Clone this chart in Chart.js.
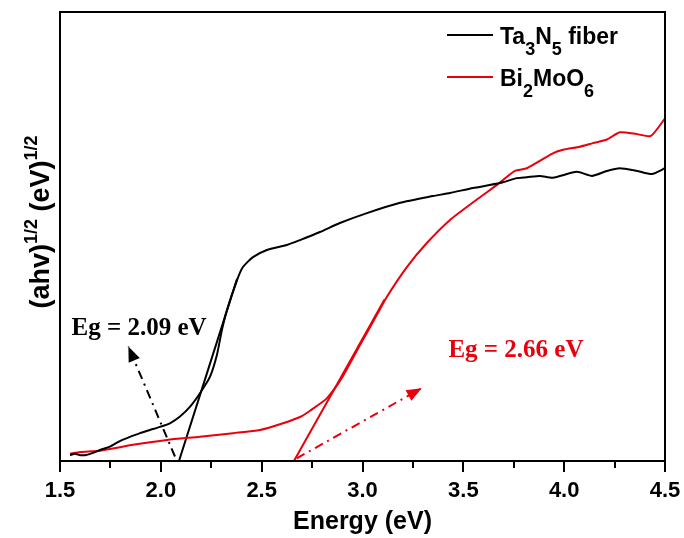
<!DOCTYPE html>
<html>
<head>
<meta charset="utf-8">
<script src="https://cdn.jsdelivr.net/npm/chart.js@4.4.0/dist/chart.umd.min.js"></script>
<style>
  html, body { margin: 0; padding: 0; background: #fff; }
</style>
</head>
<body>
<canvas id="chart" width="684" height="538"></canvas>
<script>
/** Ta3N5 fiber (black) **/
const taX = [1.55, 1.574, 1.60, 1.624, 1.664, 1.698, 1.748, 1.797, 1.832, 1.897, 1.946, 1.996, 2.045, 2.095, 2.145, 2.194, 2.244, 2.278, 2.303, 2.328, 2.378, 2.407, 2.457, 2.526, 2.625, 2.69, 2.789, 2.888, 3.022, 3.186, 3.349, 3.434, 3.548, 3.682, 3.766, 3.815, 3.88, 3.944, 4.063, 4.138, 4.212, 4.276, 4.361, 4.435, 4.5];
const taY = [1.3, 1.6, 1.3, 1.3, 1.8, 2.45, 3.2, 4.45, 5.1, 6.2, 6.9, 7.6, 8.4, 9.9, 12.1, 15.1, 18.8, 23.6, 29.2, 33.6, 40.3, 43.2, 45.4, 47.0, 48.1, 49.2, 51.0, 53.0, 55.2, 57.5, 59.0, 59.7, 60.8, 61.9, 63.0, 63.2, 63.5, 63.1, 64.4, 63.5, 64.6, 65.2, 64.6, 63.9, 65.2];

/** Bi2MoO6 (red) **/
const biX = [1.55, 1.60, 1.698, 1.862, 2.03, 2.194, 2.358, 2.492, 2.606, 2.69, 2.74, 2.824, 2.903, 2.987, 3.072, 3.121, 3.22, 3.32, 3.434, 3.572, 3.667, 3.756, 3.815, 3.939, 3.994, 4.078, 4.143, 4.212, 4.276, 4.361, 4.43, 4.5];
const biY = [1.6, 2.0, 2.3, 3.6, 4.7, 5.4, 6.2, 6.9, 8.4, 9.8, 11.2, 14.0, 18.9, 25.8, 32.6, 36.6, 43.2, 48.6, 53.7, 58.4, 61.5, 64.6, 65.2, 68.4, 69.3, 70.0, 70.8, 71.6, 73.2, 72.8, 72.4, 76.3];

/** 접선 (x 절편 = Eg) **/
const taTangentX = [2.09, 2.378];
const taTangentY = [0, 40.6];
const biTangentX = [2.66, 3.11];
const biTangentY = [0, 36.0];

/** 화살표 (dash-dot) **/
const taArrowX = [2.07, 1.839];
const taArrowY = [1.0, 25.5];
const biArrowX = [2.674, 3.293];
const biArrowY = [0.6, 16.2];

const egLabels = [
  {text: 'Eg = 2.09 eV', x: 1.892, y: 29.6, color: '#000'},
  {text: 'Eg = 2.66 eV', x: 3.761, y: 24.7, color: '#e8000b'}
];

const RED = '#e8000b';
const SANS = '"Liberation Sans", Arial, sans-serif';

function pts(xs, ys) {
  return xs.map((x, i) => ({x: x, y: ys[i]}));
}

function richText(ctx, parts, x, y) {
  let cx = x;
  parts.forEach(p => {
    ctx.font = 'bold ' + p[1] + 'px ' + SANS;
    ctx.fillText(p[0], cx, y + p[2]);
    cx += ctx.measureText(p[0]).width;
  });
  return cx - x;
}

function richWidth(ctx, parts) {
  let w = 0;
  parts.forEach(p => {
    ctx.font = 'bold ' + p[1] + 'px ' + SANS;
    w += ctx.measureText(p[0]).width;
  });
  return w;
}

const lineDs = (label, xs, ys, color, width, dash) => ({
  label: label,
  data: pts(xs, ys),
  showLine: true,
  borderColor: color,
  backgroundColor: color,
  borderWidth: width,
  borderDash: dash || [],
  pointRadius: 0,
  tension: 0.2,
  fill: false
});

/** 테두리, 보조 눈금, 화살표, 텍스트 **/
const decorPlugin = {
  id: 'decor',
  afterDraw(chart) {
    const ctx = chart.ctx;
    const a = chart.chartArea;
    const xs = chart.scales.x;
    const ys = chart.scales.y;
    ctx.save();

    // frame
    ctx.strokeStyle = '#000';
    ctx.lineWidth = 2;
    ctx.strokeRect(a.left, a.top, a.right - a.left, a.bottom - a.top);

    // ticks (major 0.5, minor 0.25)
    for (let i = 0; i <= 12; i++) {
      const v = 1.5 + i * 0.25;
      const px = Math.round(xs.getPixelForValue(v));
      const len = i % 2 === 0 ? 11 : 7;
      ctx.beginPath();
      ctx.moveTo(px, a.bottom);
      ctx.lineTo(px, a.bottom + len);
      ctx.stroke();
    }

    // arrow heads
    [[taArrowX, taArrowY, '#000'], [biArrowX, biArrowY, RED]].forEach(arr => {
      const x0 = xs.getPixelForValue(arr[0][0]), y0 = ys.getPixelForValue(arr[1][0]);
      const x1 = xs.getPixelForValue(arr[0][1]), y1 = ys.getPixelForValue(arr[1][1]);
      const ang = Math.atan2(y1 - y0, x1 - x0);
      const L = 15, W = 6;
      ctx.fillStyle = arr[2];
      ctx.beginPath();
      ctx.moveTo(x1, y1);
      ctx.lineTo(x1 - L * Math.cos(ang) + W * Math.sin(ang), y1 - L * Math.sin(ang) - W * Math.cos(ang));
      ctx.lineTo(x1 - L * Math.cos(ang) - W * Math.sin(ang), y1 - L * Math.sin(ang) + W * Math.cos(ang));
      ctx.closePath();
      ctx.fill();
    });

    // Eg labels
    ctx.textAlign = 'center';
    ctx.textBaseline = 'middle';
    ctx.font = 'bold 25px "Liberation Serif", "Times New Roman", serif';
    egLabels.forEach(l => {
      ctx.fillStyle = l.color;
      ctx.fillText(l.text, xs.getPixelForValue(l.x), ys.getPixelForValue(l.y));
    });

    // legend
    ctx.textAlign = 'left';
    ctx.textBaseline = 'alphabetic';
    ctx.lineWidth = 2;
    ctx.strokeStyle = '#000';
    ctx.beginPath(); ctx.moveTo(447, 35); ctx.lineTo(493, 35); ctx.stroke();
    ctx.strokeStyle = RED;
    ctx.beginPath(); ctx.moveTo(447, 77); ctx.lineTo(493, 77); ctx.stroke();
    ctx.fillStyle = '#000';
    richText(ctx, [['Ta', 23, 0], ['3', 18, 11], ['N', 23, 0], ['5', 18, 11], [' fiber', 23, 0]], 500, 44);
    richText(ctx, [['Bi', 23, 0], ['2', 18, 11], ['MoO', 23, 0], ['6', 18, 11]], 500, 86);

    // y title
    const yParts = [['(ahv)', 27, 0], ['1/2', 18, -12], [' (eV)', 27, 0], ['1/2', 18, -12]];
    const w = richWidth(ctx, yParts);
    ctx.translate(49, 222);
    ctx.rotate(-Math.PI / 2);
    richText(ctx, yParts, -w / 2, 0);

    ctx.restore();
  }
};

new Chart(document.getElementById('chart'), {
  type: 'scatter',
  data: {
    datasets: [
      lineDs('Ta3N5 fiber', taX, taY, '#000', 2),
      lineDs('Bi2MoO6', biX, biY, RED, 2),
      lineDs('tangent Ta', taTangentX, taTangentY, '#000', 2),
      lineDs('tangent Bi', biTangentX, biTangentY, RED, 2),
      lineDs('arrow Ta', taArrowX, taArrowY, '#000', 2, [9, 5, 2, 5]),
      lineDs('arrow Bi', biArrowX, biArrowY, RED, 2, [9, 5, 2, 5])
    ]
  },
  options: {
    responsive: false,
    animation: false,
    layout: {padding: {top: 12, right: 19, left: 0, bottom: 0}},
    plugins: {legend: {display: false}, tooltip: {enabled: false}},
    scales: {
      x: {
        type: 'linear',
        min: 1.5,
        max: 4.5,
        afterFit: s => { s.height = 77; s.paddingLeft = 0; s.paddingRight = 0; },
        grid: {display: false, drawTicks: false},
        border: {display: true, color: '#000', width: 2},
        ticks: {
          stepSize: 0.5,
          padding: 17,
          color: '#000',
          font: {family: SANS, size: 22, weight: 'bold'},
          callback: v => Number(v).toFixed(1)
        },
        title: {
          display: true,
          text: 'Energy (eV)',
          color: '#000',
          font: {family: SANS, size: 25, weight: 'bold'},
          padding: {top: 0, bottom: 1}
        }
      },
      y: {
        min: 0,
        max: 100,
        afterFit: s => { s.width = 60; },
        grid: {display: false, drawTicks: false},
        border: {display: true, color: '#000', width: 2},
        ticks: {display: false}
      }
    }
  },
  plugins: [decorPlugin]
});
</script>
</body>
</html>
